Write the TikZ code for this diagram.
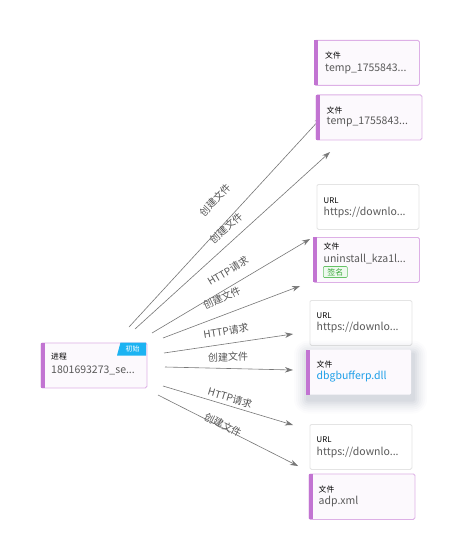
\documentclass[tikz,border=0pt]{standalone}
\usepackage{fontspec}
\setmainfont{Noto Sans CJK SC}
\usetikzlibrary{arrows.meta}
\definecolor{barc}{HTML}{C274D2}
\definecolor{bordc}{HTML}{DDB0E6}
\definecolor{fillc}{HTML}{FCF9FD}
\definecolor{urlb}{HTML}{E4E4E4}
\definecolor{valc}{HTML}{595959}
\definecolor{linec}{HTML}{777777}
\definecolor{labc}{HTML}{555555}
\definecolor{cyanc}{HTML}{1CB3F2}
\definecolor{bluet}{HTML}{1E9FE8}
\definecolor{greenb}{HTML}{66C266}
\definecolor{greenf}{HTML}{EEF9EE}
\definecolor{greent}{HTML}{3DAA3D}
\definecolor{shadc}{HTML}{2A3A5A}
\tikzset{
  filebox/.style={draw=bordc, line width=0.8pt, fill=fillc, rounded corners=1.5pt, anchor=north west, inner sep=0pt, minimum width=105pt, minimum height=45pt},
  urlbox/.style={draw=urlb, line width=0.8pt, fill=white, rounded corners=1.5pt, anchor=north west, inner sep=0pt, minimum width=102pt, minimum height=45pt},
  ttl/.style={anchor=west, inner sep=0pt, font=\fontsize{7.8}{9}\selectfont, text=black},
  val/.style={anchor=west, inner sep=0pt, font=\fontsize{10.5}{12}\selectfont, text=valc},
  conn/.style={draw=linec, line width=0.6pt, -{Stealth[length=8pt,width=5.5pt]}},
  elab/.style={font=\fontsize{10}{11}\selectfont, text=labc, inner sep=0pt},
}
\newcommand{\leftbar}[1]{\fill[barc] ([yshift=-0.4pt]#1.north west) rectangle ([xshift=4pt,yshift=0.4pt]#1.south west);}
\begin{document}
\begin{tikzpicture}[x=1pt,y=-1pt]
\useasboundingbox (0,0) rectangle (475,559);
\fill[white] (0,0) rectangle (475,559);

% connector endpoints
\coordinate (s1) at (129,327);
\coordinate (e1) at (322,117);
\coordinate (s2) at (135,329);
\coordinate (e2) at (330,152);
\coordinate (s3) at (152,333);
\coordinate (e3) at (310,239);
\coordinate (s4) at (163,338);
\coordinate (e4) at (300,286);
\coordinate (s5) at (164,353);
\coordinate (e5) at (293,334);
\coordinate (s6) at (165,367);
\coordinate (e6) at (293,370);
\coordinate (s7) at (163,386);
\coordinate (e7) at (293,425);
\coordinate (s8) at (158,395);
\coordinate (e8) at (298,466);

\draw[conn] (s1) -- (e1);
\draw[conn] (s2) -- (e2);
\draw[conn] (s3) -- (e3);
\draw[conn] (s4) -- (e4);
\draw[conn] (s5) -- (e5);
\draw[conn] (s6) -- (e6);
\draw[conn] (s7) -- (e7);
\draw[conn] (s8) -- (e8);

\node[elab, rotate=47] (l1) at (215,200) {创建文件};
\node[elab, rotate=42] (l2) at (226,228) {创建文件};
\node[elab, rotate=31] (l3) at (228,271) {HTTP请求};
\node[elab, rotate=25] (l4) at (222,298) {创建文件};
\node[elab, rotate=9] (l5) at (226,331) {HTTP请求};
\node[elab, rotate=1] (l6) at (228,357) {创建文件};
\node[elab, rotate=-17] (l7) at (230,398) {HTTP请求};
\node[elab, rotate=-27] (l8) at (223,425) {创建文件};

% process node
\node[filebox, minimum width=106pt, minimum height=45pt] (p) at (40.5,342.5) {};
\leftbar{p}
\fill[cyanc] (120.5,342.5) -- (146,342.5) -- (146,355.5) -- (117,355.5) -- cycle;
\node[inner sep=0pt, text=white, font=\fontsize{7}{8}\selectfont] (pb) at (132.5,349) {初始};
\node[ttl] (pt) at (51,357) {进程};
\node[val] (pv) at (51,370.5) {1801693273\_se...};

% file 1
\node[filebox] (f1) at (314,40) {};
\leftbar{f1}
\node[ttl] (f1t) at (325,56) {文件};
\node[val] (f1v) at (325,68.5) {temp\_1755843...};

% file 2
\node[filebox, minimum width=106pt] (f2) at (315.5,94.5) {};
\leftbar{f2}
\node[ttl] (f2t) at (326.5,111) {文件};
\node[val] (f2v) at (326.5,122) {temp\_1755843...};

% url 1
\node[urlbox] (u1) at (316.5,184) {};
\node[ttl] (u1t) at (323.5,201) {URL};
\node[val] (u1v) at (323.5,213) {https://downlo...};

% file 3
\node[filebox, minimum width=106pt, minimum height=45pt] (f3) at (313,237) {};
\leftbar{f3}
\node[ttl] (f3t) at (323.5,247) {文件};
\node[val] (f3v) at (323.5,259.5) {uninstall\_kza1l...};
\node[draw=greenb, fill=greenf, text=greent, line width=0.6pt, rounded corners=1pt, inner sep=1pt, minimum width=24pt, minimum height=11pt, font=\fontsize{8}{9}\selectfont, anchor=west] (f3s) at (323,272) {签名};

% url 2
\node[urlbox] (u2) at (309.5,300) {};
\node[ttl] (u2t) at (316.5,316) {URL};
\node[val] (u2v) at (316.5,327.5) {https://downlo...};

% file 4 (highlighted, soft shadow)
\foreach \r/\o in {14/0.012,12/0.015,10/0.02,8/0.025,6/0.03,4/0.035,2/0.04}{
  \fill[shadc, opacity=\o, rounded corners=\r pt] (308-\r,354.5-\r) rectangle (413+\r,399.5+\r);
}
\node[anchor=north west, inner sep=0pt, minimum width=105pt, minimum height=45pt, fill=fillc, rounded corners=1.5pt] (f4) at (306,349.5) {};
\leftbar{f4}
\node[ttl] (f4t) at (316.5,365) {文件};
\node[val, text=bluet] (f4v) at (316.5,377) {dbgbufferp.dll};

% url 3
\node[urlbox] (u3) at (309.5,424) {};
\node[ttl] (u3t) at (316.5,440) {URL};
\node[val] (u3v) at (316.5,452.5) {https://downlo...};

% file 5
\node[filebox, minimum width=106pt, minimum height=45.5pt] (f5) at (308.5,473.5) {};
\leftbar{f5}
\node[ttl] (f5t) at (318.5,490) {文件};
\node[val] (f5v) at (318.5,501.5) {adp.xml};
\end{tikzpicture}
\end{document}
